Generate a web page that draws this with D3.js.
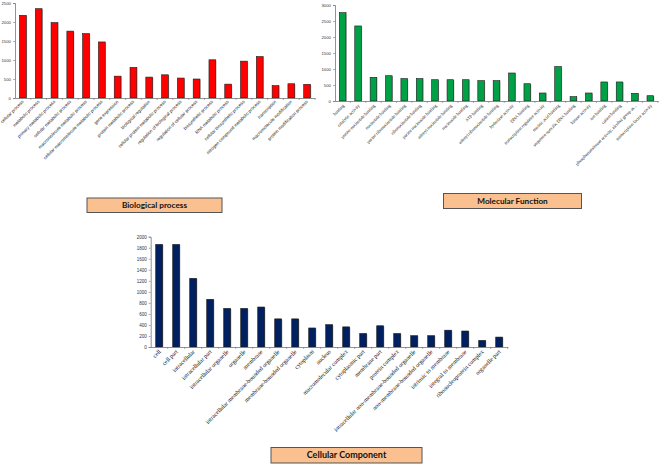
<!DOCTYPE html>
<html><head><meta charset="utf-8">
<script src="https://cdn.jsdelivr.net/npm/d3@7/dist/d3.min.js"></script>
<style>body{margin:0;background:#fff}svg{display:block}</style>
</head><body><svg id="c" width="660" height="465"></svg>
<script>
const bpCategories = ["cellular process","metabolic process","primary metabolic process","cellular metabolic process","macromolecule metabolic process","cellular macromolecule metabolic process","gene expression","protein metabolic process","biological regulation","cellular protein metabolic process","regulation of biological process","regulation of cellular process","biosynthetic process","RNA metabolic process","cellular biosynthetic process","nitrogen compound metabolic process","transcription","macromolecule modification","protein modification process"];
const bpValues = [2175,2350,1985,1760,1695,1475,575,805,550,610,525,500,1005,365,970,1090,325,375,360];
const bpTicks = [0,500,1000,1500,2000,2500];

const mfCategories = ["binding","catalytic activity","purine nucleotide binding","nucleotide binding","purine ribonucleotide binding","ribonucleotide binding","purine nucleoside binding","adenyl nucleotide binding","nucleoside binding","ATP binding","adenyl ribonucleotide binding","hydrolase activity","DNA binding","transcription regulator activity","nucleic acid binding","sequence-specific DNA binding","kinase activity","ion binding","cation binding","phosphotransferase activity, alcohol group as...","transcription factor activity"];
const mfValues = [2760,2345,740,790,700,700,665,665,665,635,635,875,540,250,1075,135,250,595,595,240,165];
const mfTicks = [0,500,1000,1500,2000,2500,3000];

const ccCategories = ["cell","cell part","intracellular","intracellular part","intracellular organelle","organelle","membrane","intracellular membrane-bounded organelle","membrane-bounded organelle","cytoplasm","nucleus","macromolecular complex","cytoplasmic part","membrane part","protein complex","intracellular non-membrane-bounded organelle","non-membrane-bounded organelle","intrinsic to membrane","integral to membrane","ribonucleoprotein complex","organelle part"];
const ccValues = [1860,1860,1245,865,700,700,725,510,510,345,405,365,245,385,245,205,205,305,290,120,180];
const ccTicks = [0,200,400,600,800,1000,1200,1400,1600,1800,2000];

const titles = ["Biological process","Molecular Function","Cellular Component"];

const svg = d3.select("#c");

function panel(cfg){
  const g = svg.append("g");
  const x = d3.scaleBand().domain(cfg.cats).range([cfg.x0, cfg.x1]).padding(0);
  const y = d3.scaleLinear().domain([0, cfg.max]).range([cfg.y0, cfg.y1]);
  const bw = x.bandwidth()*cfg.bwf;
  g.selectAll("rect.sh").data(cfg.vals).join("rect")
    .attr("x",(d,i)=>x(cfg.cats[i])+x.bandwidth()/2-bw/2+0.8)
    .attr("y",d=>y(d)+0.6).attr("width",bw).attr("height",d=>cfg.y0-y(d)-0.6)
    .attr("fill","#c8c8c8");
  g.selectAll("rect.b").data(cfg.vals).join("rect")
    .attr("x",(d,i)=>x(cfg.cats[i])+x.bandwidth()/2-bw/2)
    .attr("y",d=>y(d)).attr("width",bw).attr("height",d=>cfg.y0-y(d))
    .attr("fill",cfg.color).attr("stroke","#1a1a1a").attr("stroke-width",0.6);
  const ya = g.append("g").attr("transform",`translate(${cfg.x0},0)`)
    .call(d3.axisLeft(y).tickValues(cfg.ticks).tickSize(2).tickPadding(2).tickFormat(d3.format("d")));
  ya.select(".domain").attr("stroke","#777").attr("stroke-width",0.8);
  ya.selectAll(".tick line").attr("stroke","#777").attr("stroke-width",0.6);
  ya.selectAll("text").attr("font-family","Liberation Sans").attr("font-size",cfg.tfs).attr("fill","#333");
  const xa = g.append("g").attr("transform",`translate(0,${cfg.y0})`)
    .call(d3.axisBottom(x).tickSize(0).tickFormat(""));
  xa.select(".domain").attr("stroke","#777").attr("stroke-width",0.8);
  xa.selectAll(".tick").remove();
  g.selectAll("line.bt").data(cfg.cats).join("line")
    .attr("x1",d=>x(d)+x.bandwidth()).attr("x2",d=>x(d)+x.bandwidth())
    .attr("y1",cfg.y0).attr("y2",cfg.y0+2).attr("stroke","#777").attr("stroke-width",0.6);
  g.selectAll("text.lb").data(cfg.cats).join("text")
    .attr("transform",d=>`translate(${x(d)+x.bandwidth()/2+cfg.ldx},${cfg.y0+cfg.ldy}) rotate(-45)`)
    .attr("text-anchor","end")
    .attr("font-family",cfg.lfont).attr("font-size",cfg.lfs).attr("fill","#111")
    .text(d=>d);
  const b = cfg.box;
  g.append("rect").attr("x",b[0]).attr("y",b[1]).attr("width",b[2]-b[0]).attr("height",b[3]-b[1])
    .attr("fill","#FAC090").attr("stroke","#555").attr("stroke-width",1);
  g.append("text").attr("x",(b[0]+b[2])/2).attr("y",(b[1]+b[3])/2).attr("dy","0.35em")
    .attr("text-anchor","middle").attr("font-family","Lato").attr("font-weight","bold")
    .attr("font-size",b[4]).attr("fill","#111").text(cfg.title);
}

panel({cats:bpCategories, vals:bpValues, ticks:bpTicks, max:2500, x0:15, x1:315, y0:98, y1:3,
  bwf:0.43, color:"#FF0000", tfs:4.3, lfont:"Liberation Sans", lfs:4.4, ldx:1, ldy:4,
  box:[87,198,222,212.5,8.2], title:titles[0]});
panel({cats:mfCategories, vals:mfValues, ticks:mfTicks, max:3000, x0:335, x1:658, y0:101, y1:5,
  bwf:0.43, color:"#00A046", tfs:4.3, lfont:"Liberation Serif", lfs:4.5, ldx:2, ldy:5,
  box:[443.5,193.5,581.5,208.5,8.2], title:titles[1]});
panel({cats:ccCategories, vals:ccValues, ticks:ccTicks, max:2000, x0:150.7, x1:507.7, y0:347, y1:236.7,
  bwf:0.41, color:"#002060", tfs:4.5, lfont:"Liberation Serif", lfs:6, ldx:2, ldy:5,
  box:[271,447.5,422,463,9], title:titles[2]});
</script></body></html>
